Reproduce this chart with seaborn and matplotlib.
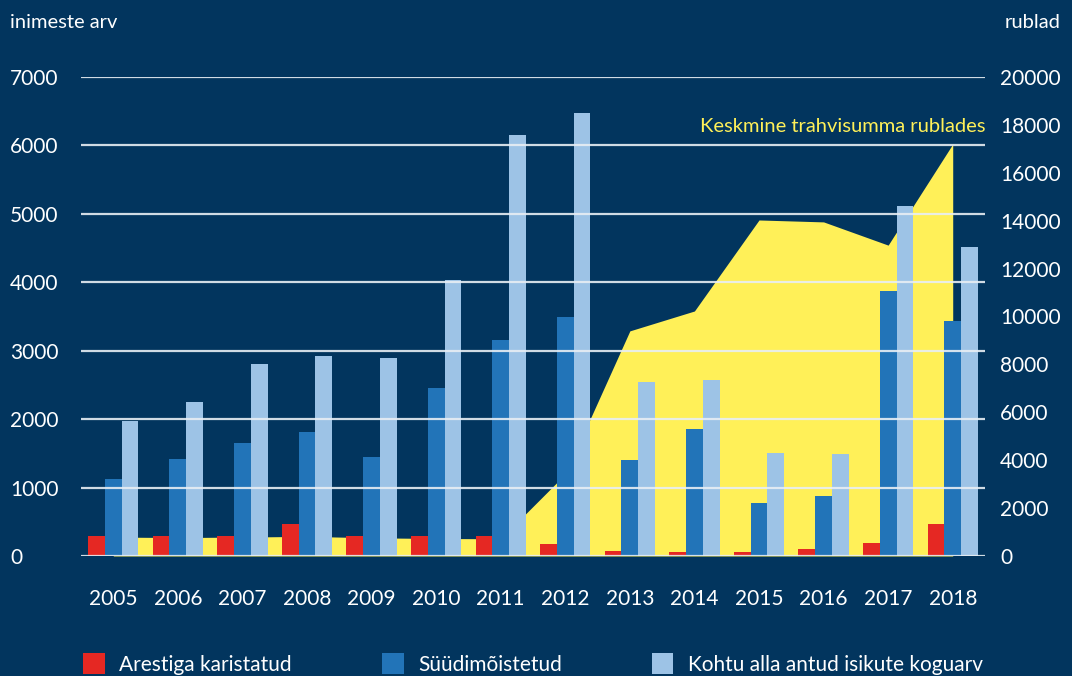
import numpy as np
import pandas as pd
import matplotlib
matplotlib.use("Agg")
import matplotlib.pyplot as plt
import seaborn as sns

# data
years = ['2005', '2006', '2007', '2008', '2009', '2010', '2011',
         '2012', '2013', '2014', '2015', '2016', '2017', '2018']
arest = [290, 290, 290, 470, 290, 290, 290, 175, 70, 55, 55, 100, 190, 470]
suudi = [1130, 1420, 1650, 1810, 1450, 2450, 3150, 3500, 1400, 1855, 775, 875, 3870, 3430]
kokku = [1975, 2250, 2800, 2930, 2890, 4030, 6150, 6470, 2550, 2570, 1505, 1490, 5110, 4510]
trahv = [790, 770, 790, 820, 760, 730, 720, 3420, 9400, 10230, 14030, 13950, 12980, 17200]

series_names = ['Arestiga karistatud', 'Süüdimõistetud', 'Kohtu alla antud isikute koguarv']
colors = ['#e52823', '#2274b8', '#9dc3e6']
yellow = '#fff058'
bg = '#02355e'

sns.set_theme(style='white')
plt.rcParams['font.family'] = ['Lato', 'DejaVu Sans']

df = pd.DataFrame({
    'aasta': years * 3,
    'arv': arest + suudi + kokku,
    'seeria': [series_names[0]] * 14 + [series_names[1]] * 14 + [series_names[2]] * 14,
})

fig = plt.figure(figsize=(10.72, 6.76), dpi=100, facecolor=bg)
ax = fig.add_axes([81 / 1072, 1 - 556 / 676, (985 - 81) / 1072, (556 - 77) / 676])
ax.set_facecolor(bg)

# yellow area (rubles) behind the bars
ax.fill_between(np.arange(len(years)), trahv, color=yellow, lw=0, zorder=1)
ax.set_ylim(0, 20000)
ax.set_yticks(range(0, 20001, 2000))

ax2 = ax.twinx()
sns.barplot(data=df, x='aasta', y='arv', hue='seeria', order=years,
            hue_order=series_names, palette=colors, width=0.78, gap=0,
            saturation=1, linewidth=0, edgecolor='none', ax=ax2, zorder=2)
ax2.set_ylim(0, 7000)
ax2.set_xlim(-0.5, len(years) - 0.5)
ax2.set_yticks(range(0, 7001, 1000))
ax2.yaxis.tick_left()
ax.yaxis.tick_right()
ax.set_xticks(np.arange(len(years)))
ax.set_xticklabels(years)
for v in range(0, 7001, 1000):
    ax2.axhline(v, color='#e8eef4', lw=1.6, alpha=0.9, zorder=5)

for a in (ax, ax2):
    for s in a.spines.values():
        s.set_visible(False)
    a.set_xlabel('')
    a.set_ylabel('')

ax2.tick_params(axis='y', length=0, pad=51, labelsize=15, colors='white',
                labelleft=True, labelright=False)
for t in ax2.get_yticklabels():
    t.set_horizontalalignment('left')
ax.tick_params(axis='y', length=0, pad=11, labelsize=15, colors='white',
               labelleft=False, labelright=True)
ax.tick_params(axis='x', length=0, pad=24, labelsize=15, colors='white')

handles, labels = ax2.get_legend_handles_labels()
ax2.get_legend().remove()
fig.legend(handles, labels, loc='center left', bbox_to_anchor=(83 / 1072, 12 / 676),
           ncol=3, frameon=False, fontsize=15, labelcolor='white',
           handlelength=1.05, handleheight=1.15, handletextpad=0.7,
           columnspacing=4.3, borderpad=0, borderaxespad=0)

fig.text(10 / 1072, 1 - 22 / 676, 'inimeste arv', color='white', fontsize=14.5,
         ha='left', va='center')
fig.text(1005 / 1072, 1 - 22 / 676, 'rublad', color='white', fontsize=14.5,
         ha='left', va='center')
fig.text(985 / 1072, 1 - 127 / 676, 'Keskmine trahvisumma rublades', color=yellow,
         fontsize=14.5, ha='right', va='center')

fig.savefig('out.png', dpi=100, facecolor=bg)
